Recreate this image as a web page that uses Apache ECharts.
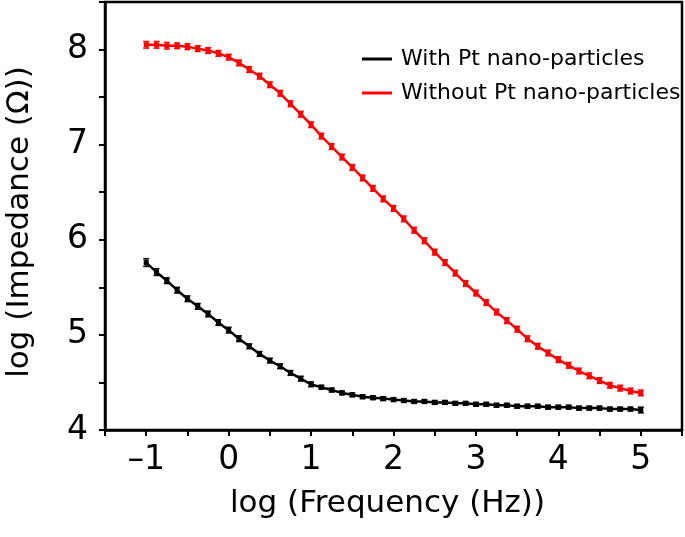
<!DOCTYPE html>
<html>
<head>
<meta charset="utf-8">
<script src="https://cdn.jsdelivr.net/npm/echarts@6/dist/echarts.min.js"></script>
<style>html,body{margin:0;padding:0;background:#fff}#c{width:685px;height:537px}</style>
</head>
<body>
<div id="c"></div>
<script>
// log(frequency) sample positions
var logFreq = [-1.000,-0.875,-0.750,-0.625,-0.500,-0.375,-0.250,-0.125,0.000,0.125,0.250,0.375,0.500,0.625,0.750,0.875,1.000,1.125,1.250,1.375,1.500,1.625,1.750,1.875,2.000,2.125,2.250,2.375,2.500,2.625,2.750,2.875,3.000,3.125,3.250,3.375,3.500,3.625,3.750,3.875,4.000,4.125,4.250,4.375,4.500,4.625,4.750,4.875,5.000];
var withPt = [5.76,5.66,5.57,5.47,5.38,5.30,5.22,5.13,5.05,4.96,4.88,4.80,4.73,4.67,4.60,4.54,4.48,4.45,4.42,4.39,4.37,4.35,4.34,4.33,4.32,4.31,4.30,4.30,4.29,4.29,4.28,4.28,4.27,4.27,4.26,4.26,4.25,4.25,4.25,4.24,4.24,4.24,4.23,4.23,4.23,4.22,4.22,4.22,4.21];
var withPtErr = [0.04,0.035,0.03,0.03,0.03,0.03,0.03,0.03,0.03,0.03,0.025,0.025,0.025,0.025,0.025,0.025,0.025,0.02,0.02,0.02,0.02,0.02,0.02,0.02,0.02,0.02,0.02,0.02,0.02,0.02,0.02,0.02,0.02,0.02,0.02,0.02,0.02,0.02,0.02,0.02,0.02,0.02,0.02,0.02,0.02,0.02,0.02,0.02,0.03];
var withoutPt = [8.05,8.05,8.04,8.04,8.03,8.01,7.99,7.96,7.92,7.86,7.79,7.72,7.63,7.54,7.43,7.32,7.21,7.09,6.98,6.87,6.76,6.65,6.54,6.43,6.33,6.22,6.10,5.99,5.87,5.76,5.65,5.54,5.44,5.34,5.24,5.15,5.06,4.96,4.88,4.81,4.74,4.68,4.62,4.57,4.52,4.47,4.44,4.41,4.39];
var withoutPtErr = [0.035,0.035,0.035,0.03,0.03,0.03,0.03,0.03,0.03,0.03,0.03,0.03,0.03,0.03,0.03,0.03,0.03,0.03,0.03,0.03,0.03,0.03,0.03,0.03,0.03,0.03,0.03,0.03,0.03,0.03,0.03,0.03,0.03,0.03,0.03,0.03,0.03,0.03,0.03,0.03,0.03,0.03,0.03,0.03,0.03,0.03,0.03,0.03,0.03];
var seriesNames = ['With Pt nano-particles', 'Without Pt nano-particles'];
var seriesColors = ['#000000', '#ff0000'];

var FONT = 'DejaVu Sans';
function pairs(ys) { return logFreq.map(function (x, i) { return [x, ys[i]]; }); }
function errData(ys, es) { return logFreq.map(function (x, i) { return [x, ys[i] - es[i], ys[i] + es[i]]; }); }
function errSeries(ys, es, color) {
  return {
    type: 'custom', z: 3, silent: true,
    data: errData(ys, es),
    encode: { x: 0, y: [1, 2] },
    renderItem: function (params, api) {
      var lo = api.coord([api.value(0), api.value(1)]);
      var hi = api.coord([api.value(0), api.value(2)]);
      var w = 3;
      var st = { stroke: color, lineWidth: 1.5 };
      return { type: 'group', children: [
        { type: 'line', shape: { x1: lo[0], y1: lo[1], x2: hi[0], y2: hi[1] }, style: st },
        { type: 'line', shape: { x1: lo[0] - w, y1: lo[1], x2: lo[0] + w, y2: lo[1] }, style: st },
        { type: 'line', shape: { x1: hi[0] - w, y1: hi[1], x2: hi[0] + w, y2: hi[1] }, style: st }
      ]};
    }
  };
}
function fmt(v) {
  if (Math.abs(v - Math.round(v)) > 1e-6) return '';
  return v < 0 ? '\u2013' + Math.abs(v) : String(v);
}

var chart = echarts.init(document.getElementById('c'));
chart.setOption({
  animation: false,
  backgroundColor: '#ffffff',
  grid: { left: 105, right: 3, top: 2, bottom: 107, containLabel: false, outerBoundsMode: 'none',
          show: true, borderColor: '#000', borderWidth: 2.5 },
  legend: {
    left: 357, top: 43, orient: 'vertical', itemGap: 12,
    itemWidth: 30, itemHeight: 3, icon: 'rect',
    data: seriesNames,
    textStyle: { fontFamily: FONT, fontSize: 22, color: '#000', padding: [0, 0, 0, 4] }
  },
  xAxis: {
    type: 'value', min: -1.5, max: 5.5, interval: 0.5,
    splitLine: { show: false },
    axisLine: { onZero: false, lineStyle: { color: '#000', width: 2.5 } },
    axisTick: { length: 6, lineStyle: { color: '#000', width: 2 } },
    axisLabel: { formatter: fmt, fontFamily: FONT, fontSize: 33, color: '#000', margin: 14, showMinLabel: true, showMaxLabel: true },
    name: 'log (Frequency (Hz))', nameLocation: 'middle', nameGap: 58,
    nameTextStyle: { fontFamily: FONT, fontSize: 31, color: '#000', padding: [0, 12, 0, 0] }
  },
  yAxis: {
    type: 'value', min: 4, max: 8.5, interval: 0.5,
    splitLine: { show: false },
    axisLine: { onZero: false, lineStyle: { color: '#000', width: 2.5 } },
    axisTick: { length: 6, lineStyle: { color: '#000', width: 2 } },
    axisLabel: { formatter: fmt, fontFamily: FONT, fontSize: 33, color: '#000', margin: 17 },
    name: 'log (Impedance (\u03A9))', nameLocation: 'middle', nameGap: 70,
    nameTextStyle: { fontFamily: FONT, fontSize: 31, color: '#000', padding: [0, 12, 0, 0] }
  },
  series: [
    { name: seriesNames[0], type: 'line', data: pairs(withPt), color: seriesColors[0],
      symbol: 'rect', symbolSize: 5, showSymbol: true, lineStyle: { width: 2.5, color: seriesColors[0] },
      itemStyle: { color: seriesColors[0] }, z: 4 },
    { name: seriesNames[1], type: 'line', data: pairs(withoutPt), color: seriesColors[1],
      symbol: 'rect', symbolSize: 5, showSymbol: true, lineStyle: { width: 2.5, color: seriesColors[1] },
      itemStyle: { color: seriesColors[1] }, z: 4 },
    errSeries(withPt, withPtErr, seriesColors[0]),
    errSeries(withoutPt, withoutPtErr, seriesColors[1])
  ]
});
</script>
</body>
</html>
